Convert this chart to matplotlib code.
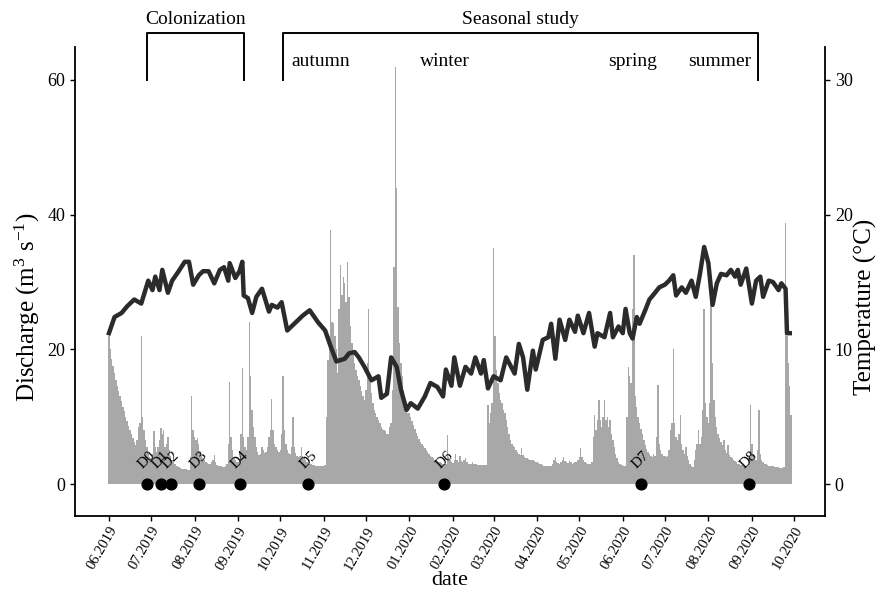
import matplotlib.pyplot as plt
import matplotlib.dates as mdates
import numpy as np
import pandas as pd

# daily discharge (m3/s), one list per month
q_jun19 = [22, 20, 18.5, 17.5, 16.5, 15.5, 14.5, 13.8, 13, 12.3, 11.5, 10.8, 10, 9.3, 8.6,
           8, 7.4, 6.8, 6.2, 5.8, 6.5, 8.5, 9, 22, 10, 8, 6.5, 5.5, 4.5, 4]
q_jul19 = [3.8, 4.5, 7.8, 5.5, 4.8, 5.5, 6.5, 8.3, 7.5, 8, 5.5, 6, 7, 5, 4.2, 3.6, 3.2, 2.9,
           2.7, 2.6, 2.5, 2.4, 2.3, 2.3, 2.2, 2.2, 2.1, 2.1, 4, 13, 8]
q_aug19 = [7, 6.5, 6.8, 6, 4.6, 4.2, 3.8, 3.5, 3.3, 3.1, 3, 3, 3.2, 3.6, 4.3, 3.2, 2.8, 2.7,
           2.6, 2.6, 2.5, 2.5, 2.6, 3, 6, 15.2, 7, 5, 4, 3.6, 3.3]
q_sep19 = [3.2, 3.5, 7.5, 17.2, 7, 5.5, 5, 7, 24, 16, 11, 8.5, 7, 5.5, 4.8, 4.3, 4.5, 5.5,
           5, 4.6, 4.8, 5.5, 7, 8, 12.6, 8, 6, 5.5, 5, 4.8]
q_oct19 = [5, 7.5, 16, 8, 6, 5, 4.6, 4.4, 5.5, 10, 5.5, 4.6, 4.2, 4, 4.2, 5.5, 4.2, 3.8,
           3.5, 3.3, 3.1, 3, 2.9, 2.8, 2.8, 2.7, 2.7, 2.6, 2.6, 2.6, 2.6]
q_nov19 = [2.6, 2.8, 10, 18.4, 22, 37.7, 24, 23.9, 22, 20, 16.5, 26, 32.5, 28, 30.8, 29.8,
           27, 32.9, 27.8, 23.4, 21, 19.4, 18, 17, 16, 15.4, 14.5, 13.8, 13, 12.5]
q_dec19 = [14, 18, 26, 16, 13.5, 12, 11, 10.5, 10, 9.5, 9, 8.5, 8.2, 8, 7.8, 7.5, 7.5, 8.5,
           9, 14, 32.3, 62, 44, 26.3, 21, 18, 16, 14, 12.5, 11.5, 10.5]
q_jan20 = [10.5, 10, 9.3, 8.7, 8.1, 7.6, 7.1, 6.7, 6.3, 6, 5.6, 5.3, 5, 4.7, 4.5, 4.2, 4,
           3.8, 3.6, 3.5, 3.4, 3.3, 3.2, 3.1, 3, 3, 3, 7.3, 4, 3.5, 3.2]
q_feb20 = [3.1, 3.6, 4.5, 3.5, 3.3, 4.2, 3.4, 3.2, 3.5, 3.9, 3.2, 3, 3, 3, 3.2, 3, 2.9, 2.9,
           2.8, 2.8, 2.8, 2.8, 2.8, 2.8, 2.8, 11.7, 9, 10.5, 12]
q_mar20 = [35, 22, 17, 15, 13.5, 12.5, 12, 11, 10.5, 9.5, 8.5, 7.5, 6.5, 6, 5.7, 5.5, 5.1,
           4.8, 4.5, 4.3, 5.3, 4.3, 4, 3.9, 3.8, 3.7, 3.6, 3.6, 3.5, 3.4, 3.3]
q_apr20 = [3.2, 3.1, 3, 2.9, 2.8, 2.7, 2.7, 2.6, 2.6, 2.6, 2.7, 3, 3.5, 4, 3.3, 3.1, 3, 3.2,
           3.6, 4, 3.4, 3.2, 3.1, 3.4, 3.2, 3, 3.1, 3.3, 3.2, 3.6]
q_may20 = [4, 5.3, 4, 3.5, 3.3, 3.1, 3, 2.9, 2.9, 3.2, 7, 10.3, 8, 9.5, 12.5, 9.5, 8.5, 10,
           12.5, 9.5, 10, 8.5, 9.5, 7.5, 6.5, 5.5, 4.5, 3.8, 3.3, 3, 2.8]
q_jun20 = [2.8, 2.7, 2.7, 10, 17.4, 16, 15, 26, 34, 13, 11.5, 10, 9, 8.2, 7.5, 6.5, 5.8, 5.2,
           4.8, 4.5, 4.2, 4, 4.5, 4.2, 7, 14.7, 6, 5, 4.5, 4.2]
q_jul20 = [4.2, 4, 4.2, 5, 8, 9, 20, 9, 7, 6.5, 7.5, 10.2, 6, 5, 4.5, 5.5, 4.2, 3.6, 3, 2.6,
           2.5, 3.5, 5, 6, 8, 6, 7, 11, 26, 12, 10]
q_aug20 = [9, 12, 27, 18, 12.5, 10, 8.5, 7.5, 6.8, 6.2, 5.8, 6.5, 5, 4.6, 5.8, 4.3, 4, 3.8,
           3.6, 3.4, 3.2, 3, 2.9, 2.8, 2.8, 2.7, 2.7, 2.6, 2.6, 4, 11.7]
q_sep20 = [6, 4.5, 4, 3.5, 5, 11, 4.5, 3.5, 3.2, 3, 2.9, 2.8, 2.7, 2.7, 2.6, 2.6, 2.5, 2.5,
           2.5, 2.5, 2.4, 2.4, 2.4, 2.5, 38.8, 22, 18, 14.5, 10.2]

# water temperature (deg C)
temp_dates = ['2019-06-01', '2019-06-05', '2019-06-10', '2019-06-14', '2019-06-19', '2019-06-24',
              '2019-06-29', '2019-07-02', '2019-07-04', '2019-07-07', '2019-07-09', '2019-07-13',
              '2019-07-16', '2019-07-20', '2019-07-25', '2019-07-28', '2019-07-31', '2019-08-04',
              '2019-08-07', '2019-08-11', '2019-08-15', '2019-08-19', '2019-08-22', '2019-08-25',
              '2019-08-26', '2019-08-30', '2019-09-02', '2019-09-04', '2019-09-05', '2019-09-08',
              '2019-09-11', '2019-09-14', '2019-09-18', '2019-09-23', '2019-09-25', '2019-09-29',
              '2019-10-02', '2019-10-06', '2019-10-10', '2019-10-14', '2019-10-17', '2019-10-22',
              '2019-10-28', '2019-11-02', '2019-11-06', '2019-11-10', '2019-11-16', '2019-11-19',
              '2019-11-23', '2019-11-26', '2019-11-30', '2019-12-05', '2019-12-10', '2019-12-12',
              '2019-12-16', '2019-12-19', '2019-12-23', '2019-12-26', '2019-12-30', '2020-01-02',
              '2020-01-07', '2020-01-12', '2020-01-16', '2020-01-21', '2020-01-25', '2020-01-27',
              '2020-01-31', '2020-02-02', '2020-02-06', '2020-02-10', '2020-02-14', '2020-02-17',
              '2020-02-21', '2020-02-23', '2020-02-26', '2020-03-01', '2020-03-06', '2020-03-10',
              '2020-03-12', '2020-03-16', '2020-03-19', '2020-03-22', '2020-03-25', '2020-03-29',
              '2020-03-31', '2020-04-05', '2020-04-09', '2020-04-11', '2020-04-14', '2020-04-17',
              '2020-04-21', '2020-04-24', '2020-04-28', '2020-04-30', '2020-05-04', '2020-05-08',
              '2020-05-12', '2020-05-14', '2020-05-19', '2020-05-23', '2020-05-25', '2020-05-29',
              '2020-06-01', '2020-06-03', '2020-06-06', '2020-06-08', '2020-06-11', '2020-06-13',
              '2020-06-17', '2020-06-20', '2020-06-24', '2020-06-27', '2020-07-01', '2020-07-04',
              '2020-07-07', '2020-07-09', '2020-07-13', '2020-07-16', '2020-07-20', '2020-07-23',
              '2020-07-26', '2020-07-29', '2020-08-01', '2020-08-04', '2020-08-07', '2020-08-10',
              '2020-08-14', '2020-08-17', '2020-08-20', '2020-08-22', '2020-08-24', '2020-08-28',
              '2020-09-01', '2020-09-04', '2020-09-07', '2020-09-09', '2020-09-13', '2020-09-16',
              '2020-09-20', '2020-09-22', '2020-09-25', '2020-09-26', '2020-09-28']
temp_values = [11.2, 12.4, 12.7, 13.2, 13.7, 13.4,
               15.1, 14.4, 15.4, 14.4, 15.9, 14.2,
               15.1, 15.7, 16.5, 16.5, 14.8, 15.5,
               15.8, 15.8, 14.9, 15.9, 16.1, 15.1,
               16.4, 15.3, 15.8, 16.5, 14.0, 13.8,
               12.7, 13.9, 14.5, 12.8, 13.3, 13.1,
               13.5, 11.4, 11.8, 12.2, 12.5, 12.9,
               12.0, 11.4, 10.2, 9.1, 9.3, 9.7,
               9.8, 9.4, 8.7, 7.7, 8.0, 6.4,
               6.7, 9.4, 8.7, 7.0, 5.5, 6.0,
               5.6, 6.5, 7.5, 7.2, 6.5, 8.5,
               7.3, 9.4, 7.3, 8.7, 8.2, 9.4,
               8.2, 9.2, 7.1, 8.0, 7.7, 9.4,
               9.0, 8.2, 10.4, 9.4, 7.0, 9.9,
               8.5, 10.7, 10.9, 11.9, 9.3, 12.2,
               10.7, 12.2, 11.3, 12.5, 11.2, 12.7,
               10.2, 11.2, 10.9, 12.7, 10.9, 11.7,
               11.2, 13.0, 11.2, 10.8, 12.4, 11.9,
               12.9, 13.7, 14.2, 14.6, 14.8, 15.1,
               15.5, 14.0, 14.6, 14.2, 15.1, 13.9,
               15.6, 17.6, 16.4, 13.3, 14.9, 15.6,
               15.5, 15.9, 15.4, 15.9, 14.8, 16.0,
               13.4, 15.1, 15.4, 13.9, 15.1, 15.0,
               14.4, 14.9, 14.5, 11.2, 11.2]

# sampling dates
sample_names = ['D0', 'D1', 'D2', 'D3', 'D4', 'D5', 'D6', 'D7', 'D8']
sample_dates = ['2019-06-28', '2019-07-08', '2019-07-15', '2019-08-04', '2019-09-02',
                '2019-10-21', '2020-01-26', '2020-06-14', '2020-08-30']

# study phases and season labels
phase_names = ['Colonization', 'Seasonal study']
phase_starts = ['2019-06-28', '2019-10-03']
phase_ends = ['2019-09-05', '2020-09-05']
season_names = ['autumn', 'winter', 'spring', 'summer']
season_dates = ['2019-10-30', '2020-01-26', '2020-06-08', '2020-08-09']

plt.rcParams['font.family'] = ['Liberation Serif', 'DejaVu Serif']
plt.rcParams['mathtext.fontset'] = 'custom'
plt.rcParams['mathtext.rm'] = 'Liberation Serif'
plt.rcParams['mathtext.it'] = 'Liberation Serif:italic'

discharge = np.concatenate([q_jun19, q_jul19, q_aug19, q_sep19, q_oct19, q_nov19, q_dec19,
                            q_jan20, q_feb20, q_mar20, q_apr20, q_may20, q_jun20, q_jul20,
                            q_aug20, q_sep20])
days = pd.date_range('2019-06-01', periods=len(discharge), freq='D')
t_dates = pd.to_datetime(temp_dates)
s_dates = pd.to_datetime(sample_dates)

fig = plt.figure(figsize=(8.79, 5.92), dpi=100)
ax = fig.add_axes([0.0853, 0.1284, 0.8533, 0.7922])
ax2 = ax.twinx()

ylo, yhi = -4.75, 64.9
ax.bar(days, discharge, width=1.0, color='#a8a8a8', linewidth=0, zorder=1)
ax2.plot(t_dates, temp_values, color='#2b2b2b', lw=3.2, solid_joinstyle='round')

ax.scatter(s_dates, np.zeros(len(s_dates)), s=60, color='black', zorder=5, clip_on=False)
for name, d in zip(sample_names, s_dates):
    ax.text(d, 3.6, name, rotation=45, ha='center', va='center', fontsize=11, zorder=6)

# brackets above the plot
for name, a, b in zip(phase_names, phase_starts, phase_ends):
    a = pd.Timestamp(a)
    b = pd.Timestamp(b)
    ax.plot([a, a, b, b], [60, 67, 67, 60], color='black', lw=1.4, clip_on=False)
    ax.text(a + (b - a) / 2, 69.0, name, ha='center', va='center', fontsize=14)
for name, d in zip(season_names, season_dates):
    ax.text(pd.Timestamp(d), 62.7, name, ha='center', va='center', fontsize=14)

x0 = pd.Timestamp('2019-06-01') - pd.Timedelta(days=24.2)
x1 = pd.Timestamp('2019-06-01') + pd.Timedelta(days=510.1)
ax.set_xlim(x0, x1)
ax.set_ylim(ylo, yhi)
ax2.set_ylim(ylo / 2, yhi / 2)
ax.set_yticks([0, 20, 40, 60])
ax2.set_yticks([0, 10, 20, 30])

ticks = pd.date_range('2019-06-01', '2020-10-01', freq='MS')
ax.set_xticks(ticks)
ax.xaxis.set_major_formatter(mdates.DateFormatter('%m.%Y'))

for a in (ax, ax2):
    a.spines['top'].set_visible(False)
    a.tick_params(width=1.0, length=3.5, labelsize=13, colors='black')
ax.tick_params(axis='x', labelsize=10.5, pad=2.5)
for lab in ax.get_xticklabels():
    lab.set_rotation(60)
    lab.set_ha('right')
    lab.set_va('top')
    lab.set_rotation_mode('anchor')
ax.spines['right'].set_visible(False)
ax2.spines['left'].set_visible(False)
ax2.spines['bottom'].set_visible(False)
for s in ('left', 'bottom'):
    ax.spines[s].set_linewidth(1.3)
ax2.spines['right'].set_linewidth(1.3)

ax.set_xlabel('date', fontsize=16)
ax.xaxis.set_label_coords(0.5, -0.138)
ax.xaxis.label.set_verticalalignment('center')
ax.set_ylabel('Discharge (m$^{3}$ s$^{-1}$)', fontsize=18)
ax.yaxis.set_label_coords(-0.064, 0.445)
ax.yaxis.label.set_verticalalignment('center')
ax2.set_ylabel('Temperature (°C)', fontsize=18)
ax2.yaxis.set_label_coords(1.054, 0.445)
ax2.yaxis.label.set_verticalalignment('center')

fig.savefig('out.png', dpi=100)
